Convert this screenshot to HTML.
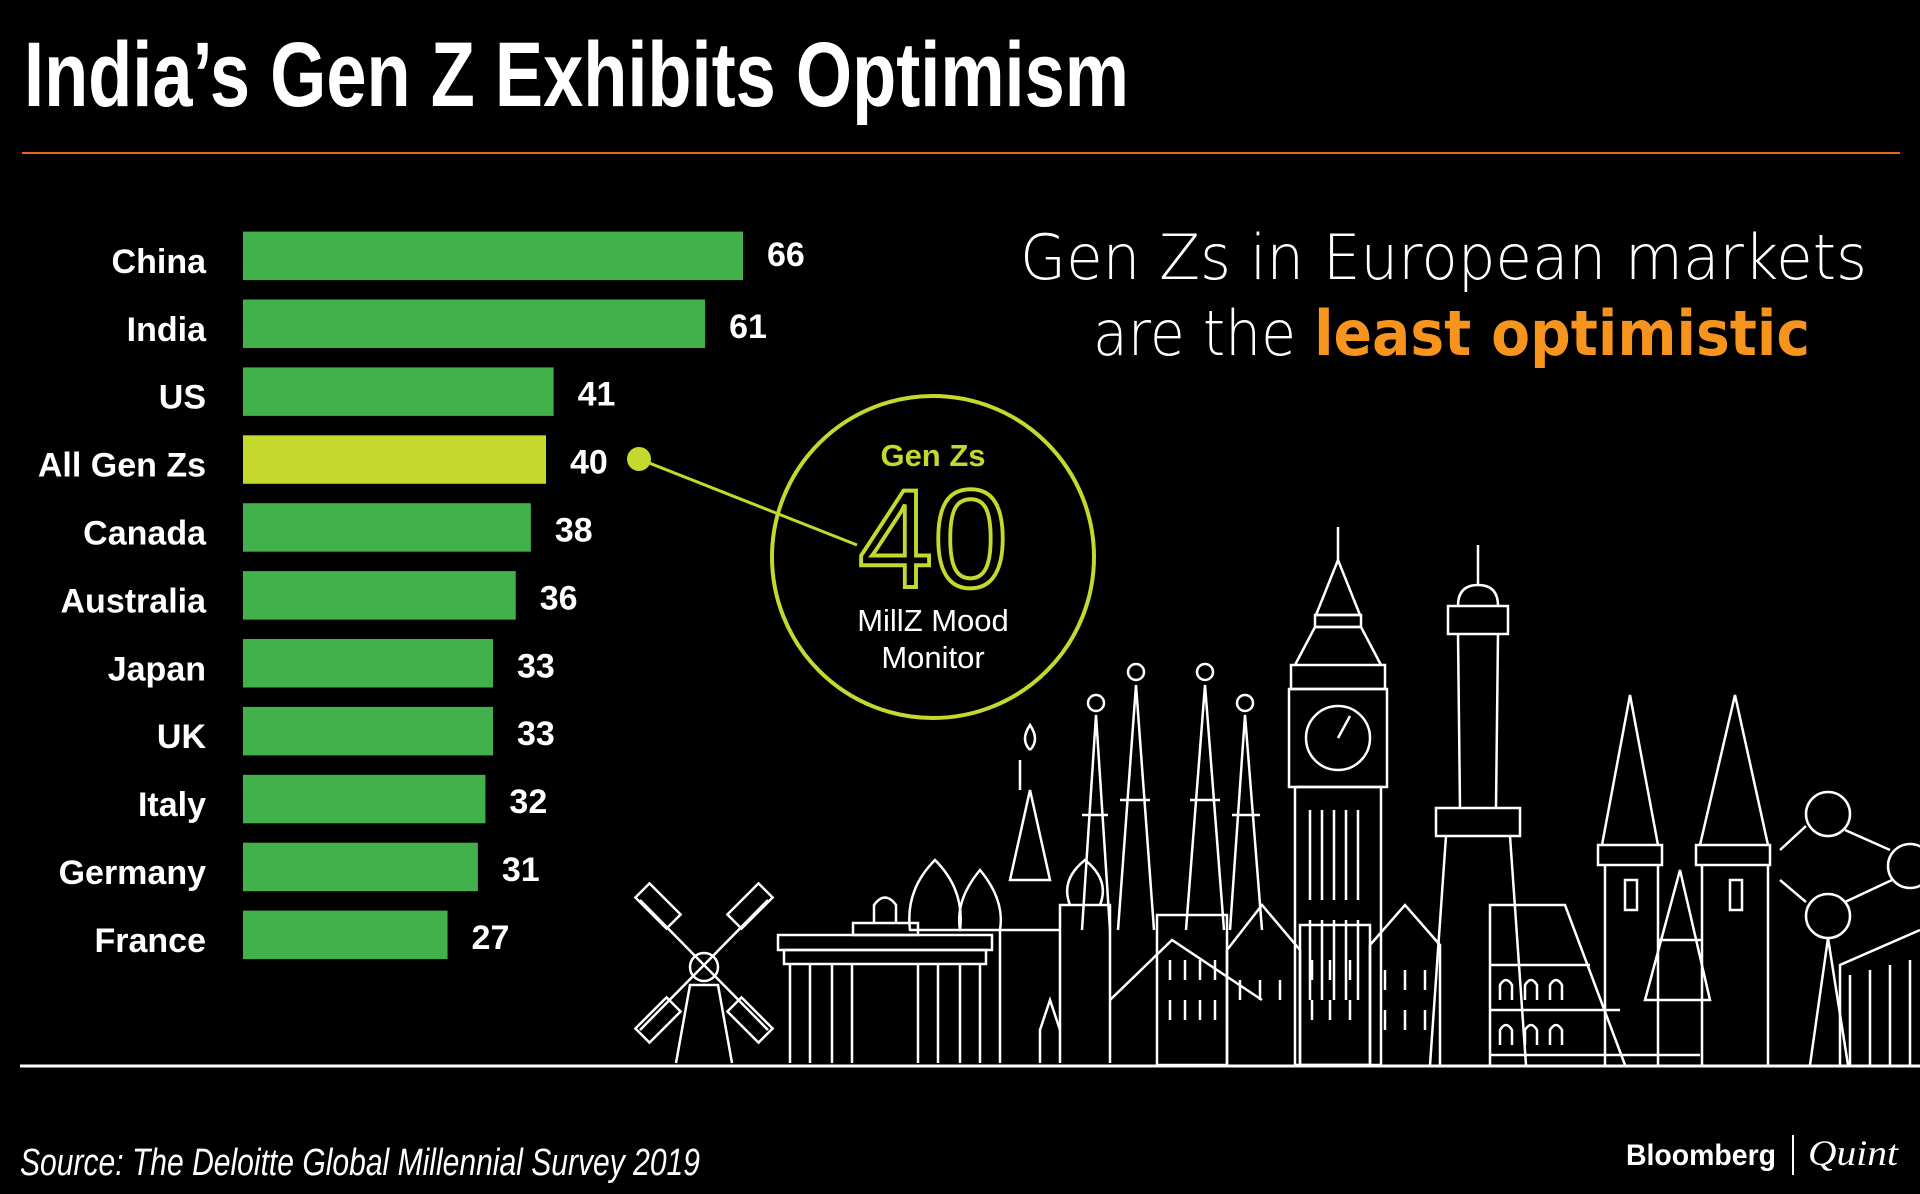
<!DOCTYPE html>
<html><head><meta charset="utf-8"><style>
html,body{margin:0;padding:0;background:#000;}
svg{display:block;}
text{font-family:"Liberation Sans",sans-serif;}
</style></head><body>
<svg id="chart" width="1920" height="1194" viewBox="0 0 1920 1194" xmlns="http://www.w3.org/2000/svg">
<rect width="1920" height="1194" fill="#000"/>
<text x="24" y="106" font-size="92" font-weight="bold" fill="#fff" textLength="1105" lengthAdjust="spacingAndGlyphs" style="font-family:'Liberation Sans Narrow','Liberation Sans',sans-serif">India’s Gen Z Exhibits Optimism</text>
<line x1="22" y1="153" x2="1900" y2="153" stroke="#e8641e" stroke-width="2"/>
<text x="1020" y="279" font-size="62" fill="#fff" textLength="847" lengthAdjust="spacingAndGlyphs" style="font-family:'DejaVu Sans','Liberation Sans',sans-serif;font-weight:200">Gen Zs in European markets</text>
<text x="1093" y="355" font-size="62" fill="#fff" textLength="717" lengthAdjust="spacingAndGlyphs" style="font-family:'DejaVu Sans','Liberation Sans',sans-serif;font-weight:200">are the <tspan fill="#f7941d" font-weight="bold">least optimistic</tspan></text>
<g id="bars"></g>
<!-- callout -->
<line x1="639" y1="459" x2="857" y2="545" stroke="#c4d82e" stroke-width="3"/>
<circle cx="639" cy="459" r="12" fill="#c4d82e"/>
<circle cx="933" cy="557" r="161" fill="none" stroke="#c4d82e" stroke-width="4"/>
<text x="933" y="466" font-size="31" font-weight="bold" fill="#c4d82e" text-anchor="middle">Gen Zs</text>
<text x="933" y="587" font-size="140" fill="none" stroke="#c4d82e" stroke-width="4" text-anchor="middle" textLength="150" lengthAdjust="spacingAndGlyphs">40</text>
<text x="933" y="631" font-size="31" fill="#fff" text-anchor="middle">MillZ Mood</text>
<text x="933" y="668" font-size="31" fill="#fff" text-anchor="middle">Monitor</text>
<!-- skyline -->
<g fill="none" stroke="#fff" stroke-width="2.5">
 <g>
  <path d="M676 1063 L690 985 L718 985 L732 1063"/>
  <circle cx="704" cy="967" r="14"/>
  <line x1="640" y1="900" x2="768" y2="1030"/><line x1="768" y1="900" x2="640" y2="1030"/>
  <rect x="636" y="896" width="44" height="20" transform="rotate(45 658 906)"/>
  <rect x="728" y="896" width="44" height="20" transform="rotate(-45 750 906)"/>
  <rect x="636" y="1010" width="44" height="20" transform="rotate(-45 658 1020)"/>
  <rect x="728" y="1010" width="44" height="20" transform="rotate(45 750 1020)"/>
 </g>
 <g>
  <rect x="778" y="935" width="214" height="15"/><rect x="784" y="950" width="202" height="14"/>
  <rect x="853" y="923" width="65" height="12"/>
  <path d="M790 964 V1063 M810 964 V1063 M832 964 V1063 M852 964 V1063 M918 964 V1063 M938 964 V1063 M960 964 V1063 M980 964 V1063"/>
  <path d="M874 923 V905 Q885 890 896 905 V923"/>
 </g>
 <g>
  <path d="M910 930 Q905 890 935 860 Q965 890 960 930 Z"/>
  <path d="M960 930 Q955 900 980 870 Q1005 900 1000 930 Z"/>
  <path d="M1010 880 L1030 790 L1050 880 Z M1020 790 V760 M1030 750 Q1020 740 1030 725 Q1040 740 1030 750"/>
  <path d="M1000 1063 V930 H1060 V1063 M1060 1063 V905 H1110 V1063"/>
  <path d="M1040 1063 V1030 L1050 1000 L1060 1030"/>
  <path d="M1070 905 Q1060 880 1085 860 Q1110 880 1100 905"/>
 </g>
 <g>
  <path d="M1082 930 L1096 715 L1110 930"/><circle cx="1096" cy="703" r="8"/>
  <path d="M1118 930 L1136 685 L1154 930"/><circle cx="1136" cy="672" r="8"/>
  <path d="M1186 930 L1205 685 L1224 930"/><circle cx="1205" cy="672" r="8"/>
  <path d="M1230 930 L1245 715 L1262 930"/><circle cx="1245" cy="703" r="8"/>
  <path d="M1110 1000 L1172 940 L1262 1000"/>
  <path d="M1082 815 H1108 M1120 800 H1150 M1190 800 H1220 M1232 815 H1260"/>
 </g>
 <g>
  <line x1="1338" y1="527" x2="1338" y2="560"/>
  <path d="M1316 615 L1338 560 L1360 615 Z"/>
  <rect x="1315" y="615" width="46" height="12"/>
  <path d="M1295 665 L1315 627 H1361 L1381 665"/>
  <rect x="1291" y="665" width="94" height="24"/>
  <rect x="1289" y="689" width="98" height="98"/>
  <circle cx="1338" cy="738" r="32"/>
  <path d="M1338 738 L1350 716"/>
  <rect x="1295" y="787" width="86" height="278"/>
  <path d="M1310 810 V900 M1322 810 V900 M1334 810 V900 M1346 810 V900 M1358 810 V900 M1310 920 V1000 M1322 920 V1000 M1334 920 V1000 M1346 920 V1000 M1358 920 V1000"/>
 </g>
 <g>
  <line x1="1478" y1="545" x2="1478" y2="585"/>
  <path d="M1458 606 Q1458 585 1478 585 Q1498 585 1498 606"/>
  <rect x="1448" y="606" width="60" height="28"/>
  <path d="M1458 634 L1460 808 M1498 634 L1496 808"/>
  <rect x="1436" y="808" width="84" height="28"/>
  <path d="M1446 836 L1430 1065 M1510 836 L1526 1065"/>
 </g>
 <g>
  <rect x="1157" y="915" width="70" height="150"/>
  <path d="M1227 1065 V950 L1262 905 L1300 950 V1065"/>
  <rect x="1300" y="925" width="70" height="140"/>
  <path d="M1370 1065 V945 L1405 905 L1440 945 V1065"/>
  <path d="M1170 960 V980 M1185 960 V980 M1200 960 V980 M1215 960 V980 M1170 1000 V1020 M1185 1000 V1020 M1200 1000 V1020 M1215 1000 V1020 M1240 980 V1000 M1260 980 V1000 M1280 980 V1000 M1312 960 V980 M1330 960 V980 M1350 960 V980 M1312 1000 V1020 M1330 1000 V1020 M1350 1000 V1020 M1385 970 V990 M1405 970 V990 M1425 970 V990 M1385 1010 V1030 M1405 1010 V1030 M1425 1010 V1030"/>
 </g>
 <g>
  <path d="M1490 1065 V905 H1565 L1625 1065"/>
  <path d="M1490 965 H1590 M1490 1010 H1620 M1490 1055 H1700"/>
  <path d="M1500 1000 V985 Q1506 975 1512 985 V1000 M1525 1000 V985 Q1531 975 1537 985 V1000 M1550 1000 V985 Q1556 975 1562 985 V1000 M1500 1045 V1030 Q1506 1020 1512 1030 V1045 M1525 1045 V1030 Q1531 1020 1537 1030 V1045 M1550 1045 V1030 Q1556 1020 1562 1030 V1045"/>
 </g>
 <g>
  <path d="M1602 845 L1630 695 L1658 845 M1700 845 L1735 695 L1768 845"/>
  <rect x="1598" y="845" width="64" height="20"/><rect x="1696" y="845" width="74" height="20"/>
  <path d="M1605 865 V1065 M1658 865 V1065 M1702 865 V1065 M1768 865 V1065"/>
  <path d="M1658 940 H1702 M1645 1000 L1680 870 L1710 1000 Z"/>
  <rect x="1625" y="880" width="12" height="30"/><rect x="1730" y="880" width="12" height="30"/>
 </g>
 <g>
  <circle cx="1828" cy="814" r="22"/><circle cx="1828" cy="916" r="22"/><circle cx="1910" cy="866" r="22"/>
  <path d="M1806 826 L1780 850 M1845 830 L1890 850 M1845 902 L1892 880 M1806 902 L1780 880 M1828 938 L1810 1065 M1828 938 L1848 1065"/>
  <path d="M1840 1065 V965 L1920 930 M1850 975 V1065 M1870 970 V1065 M1890 965 V1065 M1910 960 V1065"/>
 </g>
</g>
<line x1="20" y1="1066" x2="1920" y2="1066" stroke="#fff" stroke-width="3"/>
<text x="20" y="1175" font-size="38" font-style="italic" fill="#fff" textLength="680" lengthAdjust="spacingAndGlyphs" style="font-family:'Liberation Sans Narrow','Liberation Sans',sans-serif">Source: The Deloitte Global Millennial Survey 2019</text>
<text x="1626" y="1165" font-size="30" font-weight="bold" fill="#fff" textLength="150" lengthAdjust="spacingAndGlyphs">Bloomberg</text>
<line x1="1793" y1="1135" x2="1793" y2="1175" stroke="#fff" stroke-width="2"/>
<text x="1808" y="1165" font-size="36" font-style="italic" fill="#fff" textLength="90" lengthAdjust="spacingAndGlyphs" style="font-family:'Liberation Serif',serif">Quint</text>
</svg>
<script>
const categories = ["China","India","US","All Gen Zs","Canada","Australia","Japan","UK","Italy","Germany","France"];
const values = [66,61,41,40,38,36,33,33,32,31,27];
const highlight = ["All Gen Zs"];

const NS = "http://www.w3.org/2000/svg";
const g = document.getElementById("bars");
const x0 = 243, pxPerUnit = 500/66;
const y0 = 231.6, pitch = 67.9, barH = 48.5;
function xScale(v){ return x0 + v*pxPerUnit; }
function yScale(i){ return y0 + i*pitch; }
categories.forEach((c,i)=>{
  const v = values[i];
  const y = yScale(i);
  const r = document.createElementNS(NS,"rect");
  r.setAttribute("x", x0);
  r.setAttribute("y", y);
  r.setAttribute("width", xScale(v)-x0);
  r.setAttribute("height", barH);
  r.setAttribute("fill", highlight.includes(c) ? "#c4d82e" : "#42b04b");
  
  
  g.appendChild(r);
  const t = document.createElementNS(NS,"text");
  t.setAttribute("x", 206);
  t.setAttribute("y", y + barH/2 + 17);
  t.setAttribute("text-anchor","end");
  t.setAttribute("font-size","34");
  t.setAttribute("font-weight","bold");
  t.setAttribute("fill","#fff");
  t.textContent = c;
  
  
  g.appendChild(t);
  const vt = document.createElementNS(NS,"text");
  vt.setAttribute("x", xScale(v) + 24);
  vt.setAttribute("y", y + barH/2 + 14 - (i===0 ? 4 : 0));
  vt.setAttribute("font-size","34");
  vt.setAttribute("font-weight","bold");
  vt.setAttribute("fill","#fff");
  vt.textContent = v;
  
  
  g.appendChild(vt);
});
</script>
</body></html>
